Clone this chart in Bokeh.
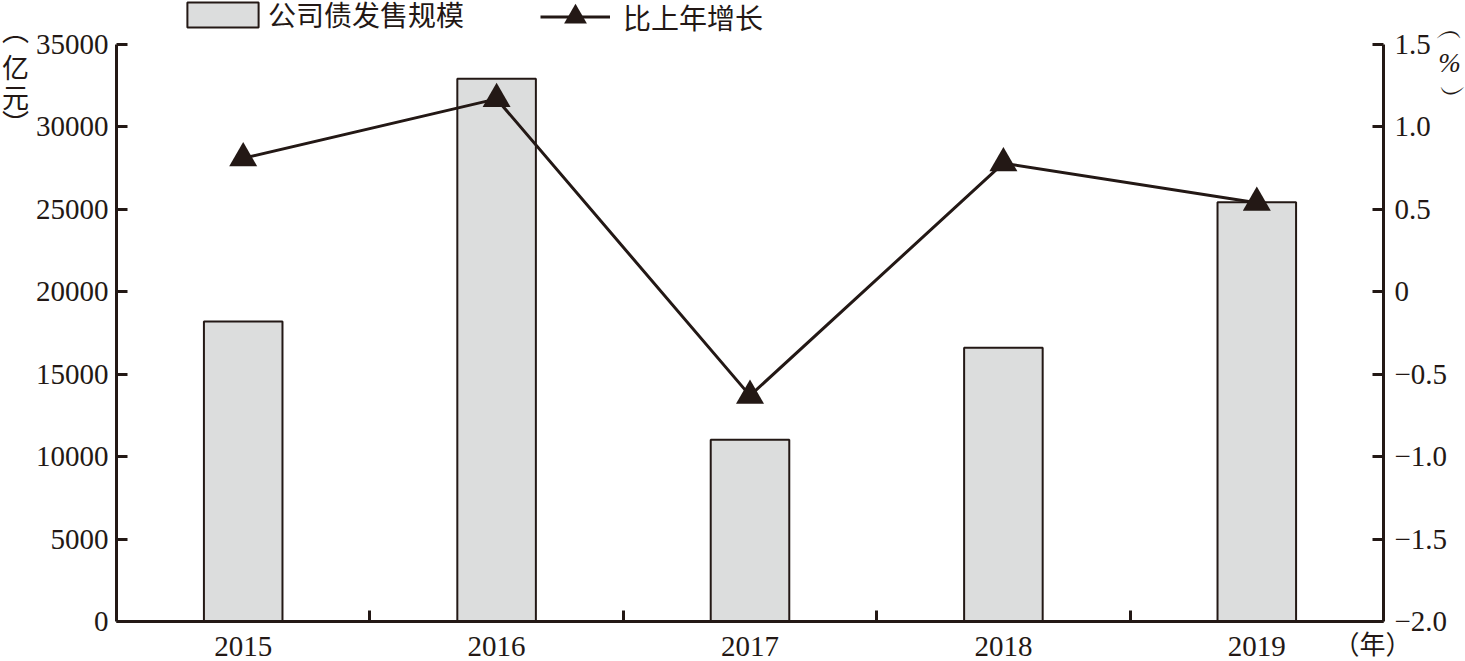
from bokeh.plotting import figure
from bokeh.models import (Range1d, LinearAxis, FixedTicker, CustomJSTickFormatter,
                          Legend, LegendItem, ColumnDataSource)
from bokeh.core.properties import value
from bokeh.embed import file_html
from bokeh.resources import INLINE

# ---- data ----
years = [2015, 2016, 2017, 2018, 2019]
issuance = [18200, 32920, 11020, 16600, 25430]      # 公司债发售规模（亿元）
growth = [0.81, 1.17, -0.63, 0.78, 0.54]            # 比上年增长（%）
x_ticks = [2015, 2016, 2017, 2018, 2019]
x_minor_ticks = [2015.5, 2016.5, 2017.5, 2018.5]
left_ticks = [0, 5000, 10000, 15000, 20000, 25000, 30000, 35000]
right_ticks = [-2.0, -1.5, -1.0, -0.5, 0.0, 0.5, 1.0, 1.5]
bar_label = "公司债发售规模"
line_label = "比上年增长"
left_unit = ["\ufe35", "亿", "元", "\ufe36"]
right_unit = ["\ufe35", "%", "\ufe36"]
x_unit = "（年）"

INK = "#231815"
BAR_FILL = "#dcdddd"
SERIF = "Liberation Serif"
CJK = "Noto Sans CJK SC"
MIXED = "Liberation Serif, Noto Sans CJK SC"

# axis extents; the frame reaches the top of the canvas so the legend fits inside it
X0, X1 = 2014.5, 2019.5
Y0, Y1 = 0, 35000
R0, R1 = -2.0, 1.5
AXIS_PX, TOP_PX = 577, 44
y_end = Y1 + (Y1 - Y0) * TOP_PX / AXIS_PX
r_end = R1 + (R1 - R0) * TOP_PX / AXIS_PX

src = ColumnDataSource(dict(year=years, issuance=issuance, growth=growth))

p = figure(width=1465, height=661, output_backend="svg", toolbar_location=None,
           x_range=Range1d(X0, X1), y_range=Range1d(Y0, y_end),
           x_axis_type=None, y_axis_type=None,
           min_border_left=116, min_border_right=82,
           min_border_top=0, min_border_bottom=40)
p.outline_line_color = None
p.background_fill_color = "white"
p.border_fill_color = "white"
p.extra_y_ranges = {"pct": Range1d(R0, r_end)}


def style(ax, size="29px"):
    ax.axis_line_color = INK
    ax.axis_line_width = 3
    ax.major_tick_line_color = INK
    ax.major_tick_line_width = 3
    ax.minor_tick_line_color = INK
    ax.minor_tick_line_width = 3
    ax.major_label_text_font = SERIF
    ax.major_label_text_font_size = size
    ax.major_label_text_color = INK


xaxis = LinearAxis(ticker=FixedTicker(ticks=x_ticks, minor_ticks=x_minor_ticks),
                   major_tick_in=0, major_tick_out=0,
                   minor_tick_in=11, minor_tick_out=0,
                   major_label_standoff=15)
style(xaxis)
p.add_layout(xaxis, "below")

yleft = LinearAxis(ticker=FixedTicker(ticks=left_ticks), bounds=(Y0, Y1),
                   major_tick_in=11, major_tick_out=0,
                   minor_tick_in=0, minor_tick_out=0,
                   major_label_standoff=8)
style(yleft)
p.add_layout(yleft, "left")

yright = LinearAxis(y_range_name="pct", ticker=FixedTicker(ticks=right_ticks),
                    bounds=(R0, R1),
                    formatter=CustomJSTickFormatter(code="""
                        if (Math.abs(tick) < 1e-9) { return "0"; }
                        const s = Math.abs(tick).toFixed(1);
                        return tick < 0 ? "\\u2212" + s : s;
                    """),
                    major_tick_in=11, major_tick_out=0,
                    minor_tick_in=0, minor_tick_out=0,
                    major_label_standoff=11)
style(yright)
p.add_layout(yright, "right")

bars = p.vbar(x="year", top="issuance", bottom=0, width=0.31, source=src,
              fill_color=BAR_FILL, line_color=INK, line_width=2)
line_r = p.line(x="year", y="growth", source=src, y_range_name="pct",
                line_color=INK, line_width=3)
tri_r = p.scatter(x="year", y="growth", source=src, y_range_name="pct",
                  marker="triangle", size=28, fill_color=INK, line_color=INK,
                  line_width=0)

leg_common = dict(orientation="horizontal", padding=0, margin=0,
                  border_line_color=None, background_fill_alpha=0,
                  label_text_font=MIXED, label_text_font_size="28px",
                  label_text_color=INK)
legend1 = Legend(items=[LegendItem(label=bar_label, renderers=[bars])],
                 location=(62, 587), glyph_width=89, glyph_height=31,
                 label_height=34, label_standoff=1, **leg_common)
legend2 = Legend(items=[LegendItem(label=line_label, renderers=[line_r, tri_r])],
                 location=(424, 576), glyph_width=70, glyph_height=57,
                 label_height=57, label_standoff=13, **leg_common)
p.add_layout(legend1, "center")
p.add_layout(legend2, "center")

# unit texts, anchored to the axis ends, drawn above the frame clip
unit_kw = dict(text_align="center", text_color=INK, level="overlay")
p.text(x=[X0] * len(left_unit), y=[Y1] * len(left_unit), text=left_unit,
       x_offset=-101, y_offset=[-15, 22, 52, 78], text_baseline="middle",
       text_font=value(CJK), text_font_size="27px", **unit_kw)
p.text(x=[X1] * len(right_unit), y=[R1] * len(right_unit), text=right_unit,
       x_offset=66, y_offset=[-15, 18, 49], text_baseline="middle",
       text_font=value(SERIF), text_font_size="27px", text_font_style="italic",
       y_range_name="pct", **unit_kw)
p.text(x=[X1], y=[Y0], text=[x_unit], x_offset=-11, y_offset=39,
       text_baseline="bottom", text_font=value(CJK), text_font_size="26px", **unit_kw)

open("out.html", "w").write(file_html(p, INLINE))
